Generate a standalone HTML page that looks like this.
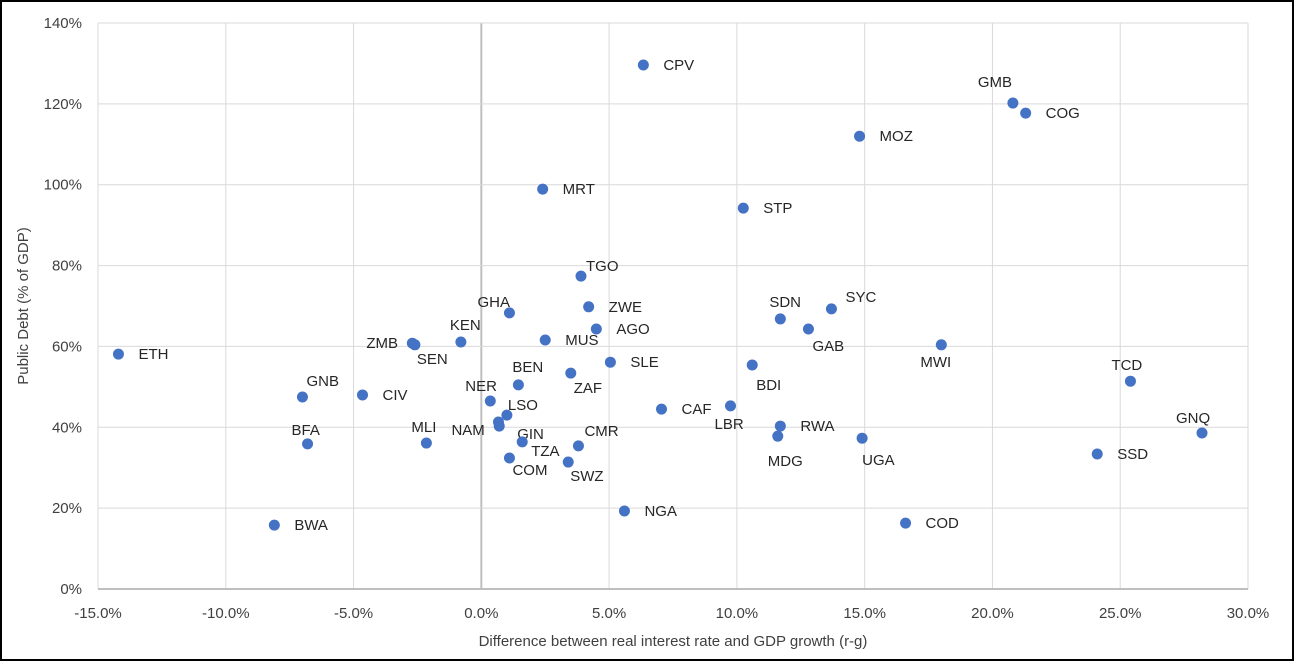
<!DOCTYPE html>
<html><head><meta charset="utf-8"><style>
html,body{margin:0;padding:0;background:#fff}
svg{display:block;font-family:"Liberation Sans",Arial,sans-serif}
</style></head><body>
<svg id="chart" width="1294" height="661">
<rect x="1" y="1" width="1292" height="659" fill="#fff" stroke="#000" stroke-width="2"/>
<g id="grid"></g><g id="axes"></g><g id="pts"></g>
<text x="673" y="646" text-anchor="middle" font-size="15" fill="#404040">Difference between real interest rate and GDP growth (r-g)</text>
<text transform="translate(28,306) rotate(-90)" text-anchor="middle" font-size="15" fill="#404040">Public Debt (% of GDP)</text>
</svg>
<script>
const countries=["CPV","GMB","COG","MOZ","MRT","STP","TGO","ZWE","GHA","SDN","SYC","AGO","GAB","KEN","MUS","ZMB","SEN","MWI","ETH","SLE","BDI","ZAF","TCD","BEN","GNB","CIV","NER","CAF","LBR","LSO","NAM","GIN","RWA","MDG","UGA","GNQ","MLI","BFA","TZA","CMR","SSD","COM","SWZ","NGA","COD","BWA"];
const rg=[6.34,20.8,21.3,14.8,2.4,10.25,3.9,4.2,1.1,11.7,13.7,4.5,12.8,-0.8,2.5,-2.7,-2.6,18.0,-14.2,5.05,10.6,3.5,25.4,1.45,-7.0,-4.65,0.35,7.05,9.75,1.0,0.67,0.7,11.7,11.6,14.9,28.2,-2.15,-6.8,1.6,3.8,24.1,1.1,3.4,5.6,16.6,-8.1];
const debt=[129.6,120.2,117.7,112,98.9,94.2,77.4,69.8,68.3,66.8,69.3,64.3,64.3,61.1,61.6,60.8,60.4,60.4,58.1,56.1,55.4,53.4,51.4,50.5,47.5,48.0,46.5,44.5,45.3,43.0,41.3,40.3,40.3,37.8,37.3,38.6,36.1,35.9,36.4,35.4,33.4,32.4,31.4,19.3,16.3,15.8];
const xTicks=[-15,-10,-5,0,5,10,15,20,25,30];
const yTicks=[0,20,40,60,80,100,120,140];
const labelOff={GMB:[-35,-21],ZMB:[-46,0],SEN:[2,14],KEN:[-11,-17],GHA:[-32,-11],TGO:[5,-10],SDN:[-11,-17],SYC:[14,-12],GAB:[4,17],MWI:[-21,17],BDI:[4,20],ZAF:[3,15],TCD:[-19,-16],BEN:[-6,-18],GNB:[4,-16],NER:[-25,-15],LBR:[-16,18],LSO:[1,-10],NAM:[-47,8],GIN:[18,8],MDG:[-10,25],UGA:[0,22],GNQ:[-26,-15],MLI:[-15,-16],BFA:[-16,-14],TZA:[9,9],CMR:[6,-15],COM:[3,12],SWZ:[2,14]};
const X0=98,X1=1248,Y0=589,Y1=23;
const sx=v=>X0+(v+15)/45*(X1-X0), sy=v=>Y0-v/140*(Y0-Y1);
const NS="http://www.w3.org/2000/svg";
function mk(p,t,a){const e=document.createElementNS(NS,t);for(const k in a)e.setAttribute(k,a[k]);p.appendChild(e);return e;}
const grid=document.getElementById('grid'),axes=document.getElementById('axes'),pts=document.getElementById('pts');
xTicks.forEach(t=>{const x=sx(t);
 const l=mk(grid,'line',{x1:x,x2:x,y1:Y1,y2:Y0,stroke:t===0?'#bfbfbf':'#d9d9d9','stroke-width':t===0?2:1});
 
 const tx=mk(axes,'text',{x:x,y:Y0+29,'text-anchor':'middle','font-size':15,fill:'#404040'});tx.textContent=t.toFixed(1)+'%';
 });
yTicks.forEach(t=>{const y=sy(t);
 const l=mk(grid,'line',{x1:X0,x2:X1,y1:y,y2:y,stroke:t===0?'#bfbfbf':'#d9d9d9','stroke-width':t===0?2:1});
 
 const tx=mk(axes,'text',{x:X0-16,y:y+5,'text-anchor':'end','font-size':15,fill:'#404040'});tx.textContent=t+'%';
 });
countries.forEach((c,i)=>{const x=sx(rg[i]),y=sy(debt[i]);
 const d=mk(pts,'circle',{cx:x,cy:y,r:5.5,fill:'#4472c4'});
 
 const o=labelOff[c]||[20,0];
 const t=mk(pts,'text',{x:x+o[0],y:y+o[1]+5,'font-size':15,fill:'#262626'});t.textContent=c;
 });
</script>
</body></html>
